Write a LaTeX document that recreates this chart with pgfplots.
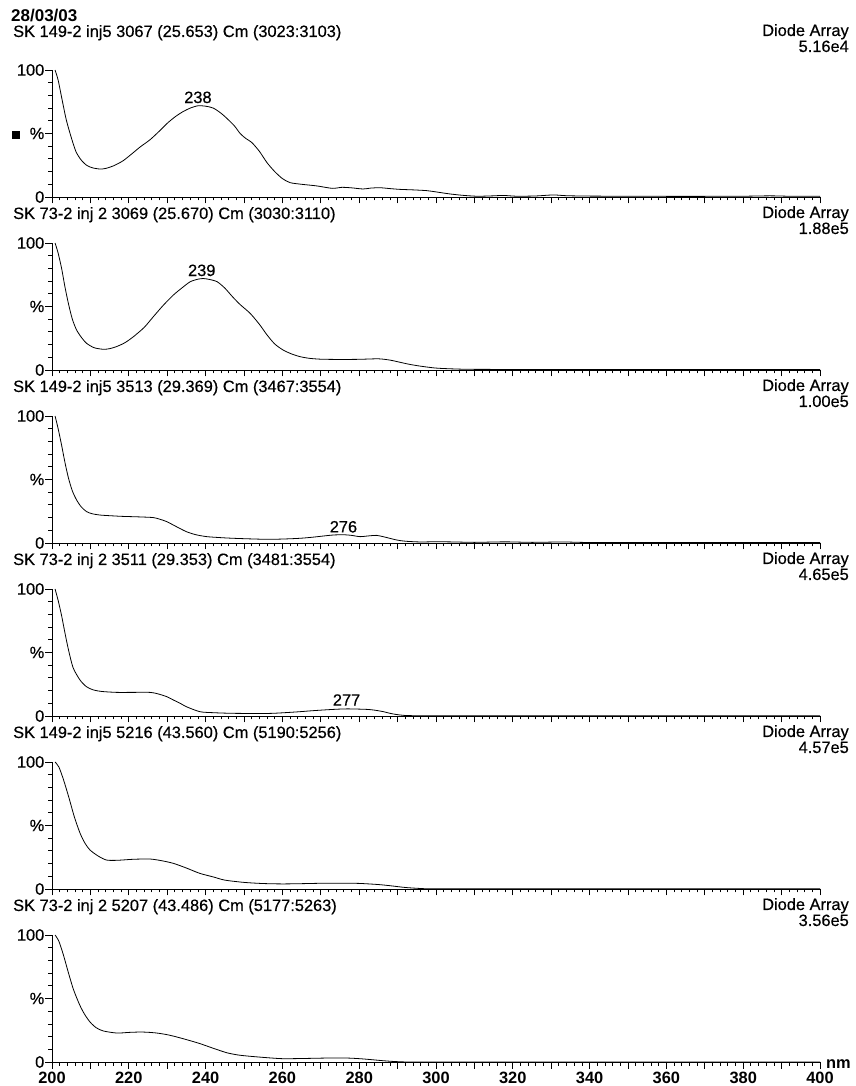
\documentclass[border=0pt]{standalone}
\usepackage{pgfplots}
\pgfplotsset{compat=1.18}
\usepackage{fontspec}
\setmainfont{Liberation Sans}
\newfontfamily\hfont{Liberation Sans}[FakeBold=0.4]
\newcommand{\hdr}{\hfont\fontsize{16.4}{18}\selectfont}
\pgfplotsset{
 panel/.style={
  scale only axis, width=768pt, height=127pt,
  xmin=200, xmax=400, ymin=0, ymax=100,
  axis x line=bottom, axis y line=left,
  axis line style={-, line width=0.9pt, black},
  tick align=outside,
  xtick={200,210,...,400}, minor x tick num=4,
  ytick={0,50,100}, minor ytick={10,20,30,40,60,70,80,90},
  major tick length=6.5pt, minor tick length=3.5pt,
  tick style={black, line width=0.8pt},
  xticklabels={},
  yticklabels={0,\%,100},
  yticklabel style={font=\hdr, inner sep=1pt},
  /pgf/number format/assume math mode=true,
  clip=false,
 },
 curve/.style={black, line width=0.8pt, smooth, tension=0.45},
}
\begin{document}
\begin{tikzpicture}
\useasboundingbox (0,0) rectangle (855pt,1086pt);
\node[anchor=base west, font=\bfseries\fontsize{17}{19}\selectfont, inner sep=0pt] at (11pt,1064pt) {28/03/03};

% ---------- Panel 1
\node[anchor=base west, font=\hdr, inner sep=0pt] at (13pt,1049pt) {SK 149-2 inj5 3067 (25.653) Cm (3023:3103)};
\node[anchor=base east, font=\hdr, inner sep=0pt] at (849pt,1050pt) {Diode Array};
\node[anchor=base east, font=\hdr, inner sep=0pt] at (849pt,1034pt) {5.16e4};
\begin{axis}[panel, at={(52pt,889pt)}, anchor=south west,
  yticklabels={0,{\rule{8pt}{8pt}\hspace{10pt}\%},100}]
\addplot[curve] coordinates {
(200.8,100) (201.6,92) (202.6,77) (203.7,61) (204.9,48) (206.2,36) (207.5,29.5) (209,25) (210.5,23) (212.5,22) (214,22.5) (216,24.5) (218.5,28.5) (221,34.5) (223,39.5) (225.5,45) (228,52) (230,58) (232,63) (234,67) (236,70) (238,71.8) (240,71.5) (242,70) (244,66) (245.5,62) (247.5,56) (249,50) (250.5,46) (252,43) (254,36) (256,27) (258,20) (260,14.5) (262,11.3) (265,10) (269,8.7) (273,6.8) (275.5,7.6) (278,7.2) (281,6.3) (283,7) (285.4,7.3) (288,6.6) (290.6,6) (294,5.6) (297.6,5) (300,4) (303.6,2.4) (307,1.3) (310.6,0.6) (314,0.8) (317.6,1.2) (321,0.6) (326,0.8) (330.5,1.6) (334,1) (340,0.7) (350,0.6) (360,0.5) (370,0.5) (380,0.6) (387,0.9) (392,0.6) (400,0.5)};
\node[font=\hdr, anchor=base, inner sep=0pt] at (axis cs:238,74) {238};
\end{axis}

% ---------- Panel 2
\node[anchor=base west, font=\hdr, inner sep=0pt] at (13pt,867pt) {SK 73-2 inj 2 3069 (25.670) Cm (3030:3110)};
\node[anchor=base east, font=\hdr, inner sep=0pt] at (849pt,868pt) {Diode Array};
\node[anchor=base east, font=\hdr, inner sep=0pt] at (849pt,852pt) {1.88e5};
\begin{axis}[panel, at={(52pt,716pt)}, anchor=south west]
\addplot[curve] coordinates {
(200.8,100) (201.6,92) (202.5,80) (203.4,65) (204.3,52) (205.3,40) (206.4,31.5) (207.7,25.5) (209,21) (211,17.5) (213.4,16.3) (215,16.8) (216.8,18.4) (219,21.5) (221.2,26.2) (224,33.5) (226.4,42) (229,51) (231.6,59) (234,65) (236,69.5) (238,71.5) (239.4,72) (241,71.3) (243,69.5) (245,64.5) (247,57.7) (249,51.5) (251.6,44.6) (254,36) (256,27.6) (258,20.5) (260.2,15.7) (262.5,12.5) (264.6,10.5) (267,9.2) (270,8.5) (275,8.3) (280,8.4) (285,8.8) (288,7.8) (290,6.5) (293,4.5) (296,3) (300,1.5) (305,0.8) (310,0.5) (330,0.4) (360,0.3) (400,0.3)};
\node[font=\hdr, anchor=base, inner sep=0pt] at (axis cs:239,74) {239};
\end{axis}

% ---------- Panel 3
\node[anchor=base west, font=\hdr, inner sep=0pt] at (13pt,694pt) {SK 149-2 inj5 3513 (29.369) Cm (3467:3554)};
\node[anchor=base east, font=\hdr, inner sep=0pt] at (849pt,695pt) {Diode Array};
\node[anchor=base east, font=\hdr, inner sep=0pt] at (849pt,679pt) {1.00e5};
\begin{axis}[panel, at={(52pt,543pt)}, anchor=south west]
\addplot[curve] coordinates {
(200.8,100) (201.6,90) (202.5,77) (203.4,63) (204.3,51) (205.3,41) (206.4,33.9) (207.6,28.5) (209,24.7) (210.5,23) (212.5,22) (215,21.5) (218,21) (221.2,20.7) (224,20.4) (226.4,20) (228,18.8) (229.9,16.8) (232,13.5) (235,8.9) (237.5,6.5) (240.3,5) (244,4.2) (247.2,3.7) (252,3.2) (256,2.9) (260,3.1) (264.6,3.7) (268,4.6) (271,5.6) (273.3,6.3) (276,6.5) (278,6) (280.2,5) (282.5,5.6) (284.5,6) (286.5,4.8) (289.7,2.4) (292,1.4) (296,0.8) (300,1) (305,0.8) (310,0.5) (318,0.9) (325,0.5) (333,0.8) (340,0.4) (360,0.3) (380,0.3) (400,0.3)};
\node[font=\hdr, anchor=base, inner sep=0pt] at (axis cs:275.9,8.3) {276};
\end{axis}

% ---------- Panel 4
\node[anchor=base west, font=\hdr, inner sep=0pt] at (13pt,521pt) {SK 73-2 inj 2 3511 (29.353) Cm (3481:3554)};
\node[anchor=base east, font=\hdr, inner sep=0pt] at (849pt,522pt) {Diode Array};
\node[anchor=base east, font=\hdr, inner sep=0pt] at (849pt,506pt) {4.65e5};
\begin{axis}[panel, at={(52pt,370pt)}, anchor=south west]
\addplot[curve] coordinates {
(200.8,100) (201.6,91) (202.5,79) (203.4,65) (204.3,52) (205.5,38) (207.3,28.3) (209,23) (210.8,20.5) (213,19.3) (216.8,18.6) (221,18.6) (225.5,18.6) (227.5,17.5) (229.9,15.2) (231.6,12.6) (233.5,9.8) (235,7.3) (238.5,3.4) (242,2.6) (247.2,2.1) (256,2) (260,2.5) (264.6,3.4) (268,4.2) (273.3,5.2) (277,5.6) (282,5.2) (284,4.6) (286.3,3.4) (288.5,1.8) (290.6,0.8) (293,0.3) (300,0.2) (320,0.2) (350,0.2) (400,0.2)};
\node[font=\hdr, anchor=base, inner sep=0pt] at (axis cs:276.7,8.1) {277};
\end{axis}

% ---------- Panel 5
\node[anchor=base west, font=\hdr, inner sep=0pt] at (13pt,348pt) {SK 149-2 inj5 5216 (43.560) Cm (5190:5256)};
\node[anchor=base east, font=\hdr, inner sep=0pt] at (849pt,349pt) {Diode Array};
\node[anchor=base east, font=\hdr, inner sep=0pt] at (849pt,333pt) {4.57e5};
\begin{axis}[panel, at={(52pt,197pt)}, anchor=south west]
\addplot[curve] coordinates {
(200.8,100) (201.8,96) (203,86) (204.4,72) (205.8,57) (207.3,44) (208.6,36) (209.9,30.7) (212,26) (214.2,22.8) (217,22.6) (221.2,23.4) (225.5,23.6) (228.5,22.3) (231.6,20.2) (235,16.5) (238.5,12.3) (242,9.5) (245,7) (250,5.2) (255,4.3) (260,4) (265,4.2) (270,4.5) (275,4.6) (280,4.4) (285,3.5) (288,2.6) (292,1.2) (296,0.4) (300,0.2) (330,0.1) (400,0.1)};
\end{axis}

% ---------- Panel 6
\node[anchor=base west, font=\hdr, inner sep=0pt] at (13pt,175pt) {SK 73-2 inj 2 5207 (43.486) Cm (5177:5263)};
\node[anchor=base east, font=\hdr, inner sep=0pt] at (849pt,176pt) {Diode Array};
\node[anchor=base east, font=\hdr, inner sep=0pt] at (849pt,160pt) {3.56e5};
\begin{axis}[panel, at={(52pt,24pt)}, anchor=south west,
  xticklabels={200,,220,,240,,260,,280,,300,,320,,340,,360,,380,,400},
  xticklabel style={font=\bfseries\fontsize{16.4}{18}\selectfont, inner sep=0pt, yshift=-3pt}]
\addplot[curve] coordinates {
(200.8,100) (201.8,95) (203,84) (204.3,70) (205.6,57) (207.2,45) (208.5,37.5) (209.9,31.5) (211.5,27) (213.4,24.4) (216.9,22.8) (220,23.3) (222.9,23.6) (225,23.4) (227.3,22.8) (230,21.5) (232.5,19.7) (235.5,17.2) (238.5,14.5) (242,10.8) (245.5,7.3) (248.5,5.5) (251.6,4.5) (256,3.4) (260.2,2.6) (266,2.8) (273.3,3.2) (277,3.1) (280.2,2.6) (283,1.9) (286.3,1) (290.6,0.2) (300,0) (400,0)};
\node[font=\bfseries\fontsize{16.4}{18}\selectfont, anchor=west, inner sep=0pt] at ([xshift=6pt,yshift=-2pt]axis cs:400,0) {nm};
\end{axis}
\end{tikzpicture}
\end{document}
